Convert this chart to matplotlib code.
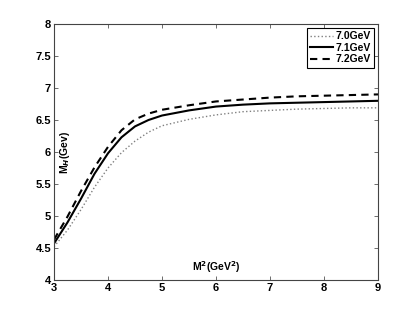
import matplotlib

matplotlib.use("Agg")
import matplotlib.pyplot as plt

# M^2 (GeV^2) sample points
m2 = [3, 3.25, 3.5, 3.75, 4, 4.25, 4.5, 4.75, 5, 5.5, 6, 6.5, 7, 7.5, 8, 8.5, 9]
mh_70 = [4.52, 4.78, 5.10, 5.45, 5.75, 5.99, 6.17, 6.31, 6.41, 6.51, 6.58,
         6.63, 6.65, 6.67, 6.68, 6.69, 6.69]
mh_71 = [4.57, 4.90, 5.27, 5.66, 5.98, 6.23, 6.40, 6.50, 6.57, 6.65, 6.71,
         6.74, 6.76, 6.77, 6.78, 6.79, 6.80]
mh_72 = [4.63, 4.99, 5.39, 5.76, 6.08, 6.34, 6.51, 6.60, 6.66, 6.73, 6.79,
         6.82, 6.85, 6.87, 6.88, 6.89, 6.90]
labels = ["7.0GeV", "7.1GeV", "7.2GeV"]

plt.rcParams["font.family"] = ["Liberation Sans", "DejaVu Sans"]
plt.rcParams["font.weight"] = "bold"

fig = plt.figure(figsize=(4.17, 3.16), dpi=100)
ax = fig.add_axes([0.1295, 0.114, 0.777, 0.81])

ax.plot(m2, mh_70, ":", color="#808080", lw=1.0, label=labels[0])
ax.plot(m2, mh_71, "-", color="black", lw=1.5, label=labels[1])
ax.plot(m2, mh_72, "--", color="black", lw=1.5, dashes=(3.5, 2.5), label=labels[2])

ax.set_xlim(3, 9)
ax.set_ylim(4, 8)
ax.set_xticks([3, 4, 5, 6, 7, 8, 9])
ax.set_yticks([4, 4.5, 5, 5.5, 6, 6.5, 7, 7.5, 8])
ax.set_yticklabels(["4", "4.5", "5", "5.5", "6", "6.5", "7", "7.5", "8"])
ax.tick_params(direction="in", top=True, right=True, labelsize=8, length=3,
               width=0.6, pad=2, color="#555555")
for lab in ax.get_xticklabels() + ax.get_yticklabels():
    lab.set_fontweight("bold")
for sp in ax.spines.values():
    sp.set_linewidth(0.8)
    sp.set_color("#444444")

ax.text(0.5, 0.05, r"M$^2$(GeV$^2$)", transform=ax.transAxes, ha="center",
        va="center", fontsize=7.5, fontweight="bold")
ax.text(0.035, 0.5, r"M$_H$(Gev)", transform=ax.transAxes, ha="center",
        va="center", rotation=90, fontsize=7.5, fontweight="bold")

leg = ax.legend(loc="upper right", fontsize=7.5, handlelength=2.2,
                handletextpad=0.2, borderpad=0.3, labelspacing=0.15,
                borderaxespad=0.4, fancybox=False, framealpha=1,
                edgecolor="black")
leg.get_frame().set_linewidth(0.8)
for t in leg.get_texts():
    t.set_fontweight("bold")

fig.savefig("out.png", dpi=100)
